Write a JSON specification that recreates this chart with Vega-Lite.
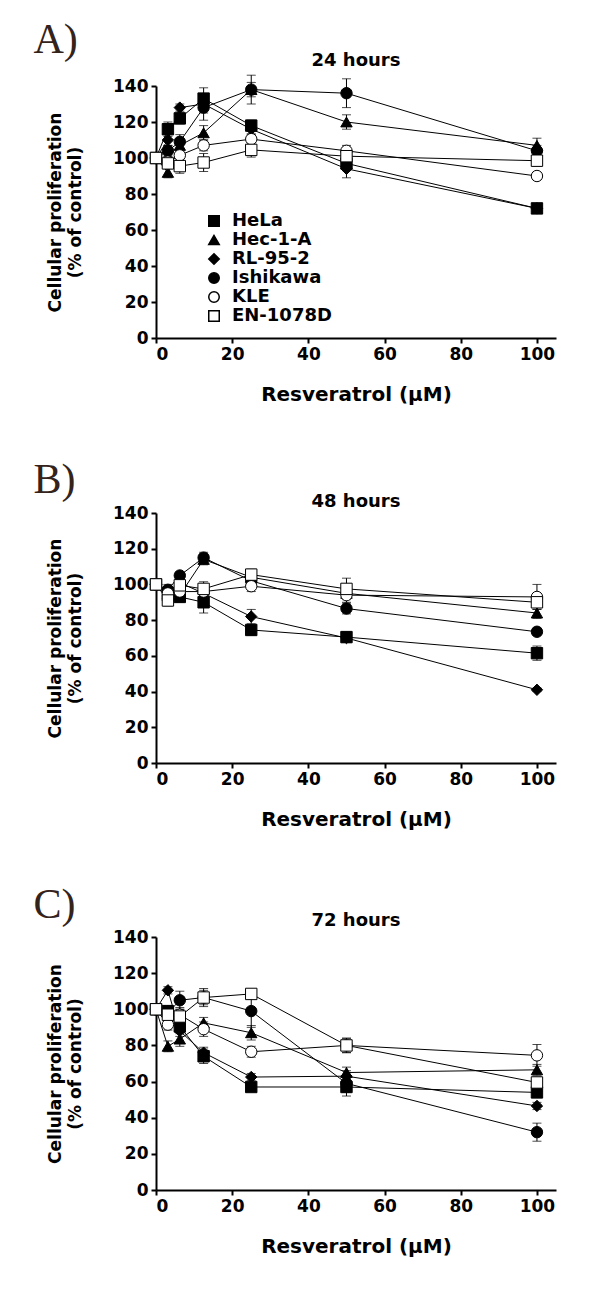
{
  "$schema": "https://vega.github.io/schema/vega-lite/v6.json",
  "padding": {"left": 33, "top": 18, "right": 5, "bottom": 5},
  "config": {
    "font": "DejaVu Sans",
    "view": {"stroke": null},
    "axis": {"labelFont": "DejaVu Sans", "labelFontWeight": "bold", "labelFontSize": 17, "labelColor": "black", "titleFont": "DejaVu Sans", "titleFontWeight": "bold", "titleColor": "black", "domainColor": "black", "domainWidth": 2, "tickColor": "black", "tickWidth": 2, "tickSize": 5, "grid": false, "labelPadding": 3},
    "axisX": {"titleFontSize": 20, "titlePadding": 22},
    "axisY": {"titleFontSize": 17, "titleLineHeight": 20, "titlePadding": 28},
    "title": {"font": "DejaVu Sans", "fontWeight": "bold", "fontSize": 18, "color": "black"},
    "concat": {"spacing": 55}
  },
  "datasets": {
    "d": [
      {"t": "24 hours", "cell": "HeLa", "x": 0, "y": 100, "sd": 1},
      {"t": "24 hours", "cell": "HeLa", "x": 3.125, "y": 116, "sd": 4},
      {"t": "24 hours", "cell": "HeLa", "x": 6.25, "y": 122, "sd": 3},
      {"t": "24 hours", "cell": "HeLa", "x": 12.5, "y": 133, "sd": 6},
      {"t": "24 hours", "cell": "HeLa", "x": 25, "y": 118, "sd": 3},
      {"t": "24 hours", "cell": "HeLa", "x": 50, "y": 97, "sd": 4},
      {"t": "24 hours", "cell": "HeLa", "x": 100, "y": 72, "sd": 1},
      {"t": "24 hours", "cell": "Hec-1-A", "x": 0, "y": 100, "sd": 1},
      {"t": "24 hours", "cell": "Hec-1-A", "x": 3.125, "y": 92, "sd": 3},
      {"t": "24 hours", "cell": "Hec-1-A", "x": 6.25, "y": 107, "sd": 3},
      {"t": "24 hours", "cell": "Hec-1-A", "x": 12.5, "y": 114, "sd": 4},
      {"t": "24 hours", "cell": "Hec-1-A", "x": 25, "y": 138, "sd": 4},
      {"t": "24 hours", "cell": "Hec-1-A", "x": 50, "y": 120, "sd": 4},
      {"t": "24 hours", "cell": "Hec-1-A", "x": 100, "y": 107, "sd": 4},
      {"t": "24 hours", "cell": "RL-95-2", "x": 0, "y": 100, "sd": 1},
      {"t": "24 hours", "cell": "RL-95-2", "x": 3.125, "y": 110, "sd": 3},
      {"t": "24 hours", "cell": "RL-95-2", "x": 6.25, "y": 128, "sd": 2},
      {"t": "24 hours", "cell": "RL-95-2", "x": 12.5, "y": 130, "sd": 5},
      {"t": "24 hours", "cell": "RL-95-2", "x": 25, "y": 116, "sd": 3},
      {"t": "24 hours", "cell": "RL-95-2", "x": 50, "y": 94, "sd": 5},
      {"t": "24 hours", "cell": "RL-95-2", "x": 100, "y": 72, "sd": 2},
      {"t": "24 hours", "cell": "Ishikawa", "x": 0, "y": 100, "sd": 1},
      {"t": "24 hours", "cell": "Ishikawa", "x": 3.125, "y": 104, "sd": 3},
      {"t": "24 hours", "cell": "Ishikawa", "x": 6.25, "y": 109, "sd": 4},
      {"t": "24 hours", "cell": "Ishikawa", "x": 12.5, "y": 128, "sd": 7},
      {"t": "24 hours", "cell": "Ishikawa", "x": 25, "y": 138, "sd": 8},
      {"t": "24 hours", "cell": "Ishikawa", "x": 50, "y": 136, "sd": 8},
      {"t": "24 hours", "cell": "Ishikawa", "x": 100, "y": 104, "sd": 3},
      {"t": "24 hours", "cell": "KLE", "x": 0, "y": 100, "sd": 1},
      {"t": "24 hours", "cell": "KLE", "x": 3.125, "y": 98, "sd": 3},
      {"t": "24 hours", "cell": "KLE", "x": 6.25, "y": 101.5, "sd": 3},
      {"t": "24 hours", "cell": "KLE", "x": 12.5, "y": 107, "sd": 3},
      {"t": "24 hours", "cell": "KLE", "x": 25, "y": 110.5, "sd": 3},
      {"t": "24 hours", "cell": "KLE", "x": 50, "y": 104, "sd": 3},
      {"t": "24 hours", "cell": "KLE", "x": 100, "y": 90, "sd": 2},
      {"t": "24 hours", "cell": "EN-1078D", "x": 0, "y": 100, "sd": 1},
      {"t": "24 hours", "cell": "EN-1078D", "x": 3.125, "y": 97, "sd": 3},
      {"t": "24 hours", "cell": "EN-1078D", "x": 6.25, "y": 95.5, "sd": 4},
      {"t": "24 hours", "cell": "EN-1078D", "x": 12.5, "y": 97.5, "sd": 5},
      {"t": "24 hours", "cell": "EN-1078D", "x": 25, "y": 104.5, "sd": 4},
      {"t": "24 hours", "cell": "EN-1078D", "x": 50, "y": 101, "sd": 5},
      {"t": "24 hours", "cell": "EN-1078D", "x": 100, "y": 98.5, "sd": 3},

      {"t": "48 hours", "cell": "HeLa", "x": 0, "y": 100, "sd": 2},
      {"t": "48 hours", "cell": "HeLa", "x": 3.125, "y": 94, "sd": 3},
      {"t": "48 hours", "cell": "HeLa", "x": 6.25, "y": 93, "sd": 3},
      {"t": "48 hours", "cell": "HeLa", "x": 12.5, "y": 90, "sd": 6},
      {"t": "48 hours", "cell": "HeLa", "x": 25, "y": 74.5, "sd": 3},
      {"t": "48 hours", "cell": "HeLa", "x": 50, "y": 70.5, "sd": 3},
      {"t": "48 hours", "cell": "HeLa", "x": 100, "y": 61.5, "sd": 4},
      {"t": "48 hours", "cell": "Hec-1-A", "x": 0, "y": 100, "sd": 2},
      {"t": "48 hours", "cell": "Hec-1-A", "x": 3.125, "y": 95, "sd": 3},
      {"t": "48 hours", "cell": "Hec-1-A", "x": 6.25, "y": 94, "sd": 3},
      {"t": "48 hours", "cell": "Hec-1-A", "x": 12.5, "y": 114, "sd": 3},
      {"t": "48 hours", "cell": "Hec-1-A", "x": 25, "y": 104, "sd": 3},
      {"t": "48 hours", "cell": "Hec-1-A", "x": 50, "y": 95, "sd": 3},
      {"t": "48 hours", "cell": "Hec-1-A", "x": 100, "y": 84, "sd": 3},
      {"t": "48 hours", "cell": "RL-95-2", "x": 0, "y": 100, "sd": 2},
      {"t": "48 hours", "cell": "RL-95-2", "x": 3.125, "y": 96, "sd": 3},
      {"t": "48 hours", "cell": "RL-95-2", "x": 6.25, "y": 101, "sd": 3},
      {"t": "48 hours", "cell": "RL-95-2", "x": 12.5, "y": 95, "sd": 4},
      {"t": "48 hours", "cell": "RL-95-2", "x": 25, "y": 82, "sd": 4},
      {"t": "48 hours", "cell": "RL-95-2", "x": 50, "y": 70, "sd": 2},
      {"t": "48 hours", "cell": "RL-95-2", "x": 100, "y": 41, "sd": 1},
      {"t": "48 hours", "cell": "Ishikawa", "x": 0, "y": 100, "sd": 2},
      {"t": "48 hours", "cell": "Ishikawa", "x": 3.125, "y": 97, "sd": 3},
      {"t": "48 hours", "cell": "Ishikawa", "x": 6.25, "y": 105, "sd": 2},
      {"t": "48 hours", "cell": "Ishikawa", "x": 12.5, "y": 115, "sd": 3},
      {"t": "48 hours", "cell": "Ishikawa", "x": 25, "y": 102, "sd": 3},
      {"t": "48 hours", "cell": "Ishikawa", "x": 50, "y": 86.5, "sd": 3},
      {"t": "48 hours", "cell": "Ishikawa", "x": 100, "y": 73.5, "sd": 2},
      {"t": "48 hours", "cell": "KLE", "x": 0, "y": 100, "sd": 2},
      {"t": "48 hours", "cell": "KLE", "x": 3.125, "y": 95, "sd": 3},
      {"t": "48 hours", "cell": "KLE", "x": 6.25, "y": 96, "sd": 3},
      {"t": "48 hours", "cell": "KLE", "x": 12.5, "y": 96, "sd": 4},
      {"t": "48 hours", "cell": "KLE", "x": 25, "y": 99, "sd": 3},
      {"t": "48 hours", "cell": "KLE", "x": 50, "y": 94, "sd": 4},
      {"t": "48 hours", "cell": "KLE", "x": 100, "y": 93, "sd": 7},
      {"t": "48 hours", "cell": "EN-1078D", "x": 0, "y": 100, "sd": 2},
      {"t": "48 hours", "cell": "EN-1078D", "x": 3.125, "y": 91, "sd": 3},
      {"t": "48 hours", "cell": "EN-1078D", "x": 6.25, "y": 99.5, "sd": 3},
      {"t": "48 hours", "cell": "EN-1078D", "x": 12.5, "y": 97.5, "sd": 4},
      {"t": "48 hours", "cell": "EN-1078D", "x": 25, "y": 105.5, "sd": 3},
      {"t": "48 hours", "cell": "EN-1078D", "x": 50, "y": 97.5, "sd": 6},
      {"t": "48 hours", "cell": "EN-1078D", "x": 100, "y": 90, "sd": 4},

      {"t": "72 hours", "cell": "HeLa", "x": 0, "y": 100, "sd": 2},
      {"t": "72 hours", "cell": "HeLa", "x": 3.125, "y": 99, "sd": 3},
      {"t": "72 hours", "cell": "HeLa", "x": 6.25, "y": 90.5, "sd": 4},
      {"t": "72 hours", "cell": "HeLa", "x": 12.5, "y": 74, "sd": 4},
      {"t": "72 hours", "cell": "HeLa", "x": 25, "y": 57, "sd": 2},
      {"t": "72 hours", "cell": "HeLa", "x": 50, "y": 57, "sd": 5},
      {"t": "72 hours", "cell": "HeLa", "x": 100, "y": 54, "sd": 2},
      {"t": "72 hours", "cell": "Hec-1-A", "x": 0, "y": 100, "sd": 2},
      {"t": "72 hours", "cell": "Hec-1-A", "x": 3.125, "y": 79.5, "sd": 3},
      {"t": "72 hours", "cell": "Hec-1-A", "x": 6.25, "y": 83.5, "sd": 4},
      {"t": "72 hours", "cell": "Hec-1-A", "x": 12.5, "y": 92.5, "sd": 3},
      {"t": "72 hours", "cell": "Hec-1-A", "x": 25, "y": 87, "sd": 4},
      {"t": "72 hours", "cell": "Hec-1-A", "x": 50, "y": 65, "sd": 3},
      {"t": "72 hours", "cell": "Hec-1-A", "x": 100, "y": 66.5, "sd": 3},
      {"t": "72 hours", "cell": "RL-95-2", "x": 0, "y": 100, "sd": 2},
      {"t": "72 hours", "cell": "RL-95-2", "x": 3.125, "y": 110.5, "sd": 2},
      {"t": "72 hours", "cell": "RL-95-2", "x": 6.25, "y": 88, "sd": 3},
      {"t": "72 hours", "cell": "RL-95-2", "x": 12.5, "y": 76, "sd": 3},
      {"t": "72 hours", "cell": "RL-95-2", "x": 25, "y": 62.5, "sd": 2},
      {"t": "72 hours", "cell": "RL-95-2", "x": 50, "y": 63, "sd": 3},
      {"t": "72 hours", "cell": "RL-95-2", "x": 100, "y": 46.5, "sd": 2},
      {"t": "72 hours", "cell": "Ishikawa", "x": 0, "y": 100, "sd": 2},
      {"t": "72 hours", "cell": "Ishikawa", "x": 3.125, "y": 98, "sd": 3},
      {"t": "72 hours", "cell": "Ishikawa", "x": 6.25, "y": 105, "sd": 5},
      {"t": "72 hours", "cell": "Ishikawa", "x": 12.5, "y": 106.5, "sd": 4},
      {"t": "72 hours", "cell": "Ishikawa", "x": 25, "y": 99, "sd": 9},
      {"t": "72 hours", "cell": "Ishikawa", "x": 50, "y": 59, "sd": 5},
      {"t": "72 hours", "cell": "Ishikawa", "x": 100, "y": 32, "sd": 5},
      {"t": "72 hours", "cell": "KLE", "x": 0, "y": 100, "sd": 2},
      {"t": "72 hours", "cell": "KLE", "x": 3.125, "y": 91.5, "sd": 3},
      {"t": "72 hours", "cell": "KLE", "x": 6.25, "y": 97, "sd": 4},
      {"t": "72 hours", "cell": "KLE", "x": 12.5, "y": 89, "sd": 4},
      {"t": "72 hours", "cell": "KLE", "x": 25, "y": 76.5, "sd": 3},
      {"t": "72 hours", "cell": "KLE", "x": 50, "y": 80, "sd": 4},
      {"t": "72 hours", "cell": "KLE", "x": 100, "y": 74.5, "sd": 6},
      {"t": "72 hours", "cell": "EN-1078D", "x": 0, "y": 100, "sd": 2},
      {"t": "72 hours", "cell": "EN-1078D", "x": 3.125, "y": 97, "sd": 3},
      {"t": "72 hours", "cell": "EN-1078D", "x": 6.25, "y": 96, "sd": 4},
      {"t": "72 hours", "cell": "EN-1078D", "x": 12.5, "y": 106.5, "sd": 5},
      {"t": "72 hours", "cell": "EN-1078D", "x": 25, "y": 108.5, "sd": 2},
      {"t": "72 hours", "cell": "EN-1078D", "x": 50, "y": 80, "sd": 4},
      {"t": "72 hours", "cell": "EN-1078D", "x": 100, "y": 59.5, "sd": 3}
    ]
  },
  "resolve": {"scale": {"shape": "independent", "fill": "independent"}},
  "vconcat": [
    {
      "title": {"text": "A)", "anchor": "start", "font": "Liberation Serif", "fontWeight": "normal", "fontSize": 42, "color": "#33231a", "dx": -13, "offset": -10},
      "resolve": {"scale": {"shape": "independent", "fill": "independent"}},
      "vconcat": [
        {
          "width": 400, "height": 252,
          "data": {"name": "d"},
          "transform": [{"filter": "datum.t === '24 hours'"}],
          "title": {"text": "24 hours", "frame": "group", "offset": 5},
          "encoding": {
            "x": {"field": "x", "type": "quantitative", "scale": {"domain": [0, 105], "nice": false}, "axis": {"values": [0, 20, 40, 60, 80, 100], "title": "Resveratrol (μM)"}},
            "y": {"field": "y", "type": "quantitative", "scale": {"domain": [0, 140], "nice": false}, "axis": {"values": [0, 20, 40, 60, 80, 100, 120, 140], "title": ["Cellular proliferation", "(% of control)"]}}
          },
          "layer": [
            {"mark": {"type": "line", "color": "black", "strokeWidth": 1}, "encoding": {"detail": {"field": "cell"}}},
            {"mark": {"type": "errorbar", "color": "black", "ticks": {"size": 9, "color": "black"}, "rule": {"strokeWidth": 1}}, "encoding": {"yError": {"field": "sd"}, "detail": {"field": "cell"}}},
            {"mark": {"type": "point", "filled": true, "opacity": 1, "stroke": "black", "strokeWidth": 1, "size": 130},
             "encoding": {
               "shape": {"field": "cell", "type": "nominal", "scale": {"domain": ["HeLa", "Hec-1-A", "RL-95-2", "Ishikawa", "KLE", "EN-1078D"], "range": ["square", "triangle-up", "diamond", "circle", "circle", "square"]},
                 "legend": {"title": null, "orient": "none", "legendX": 49, "legendY": 126, "labelFont": "DejaVu Sans", "labelFontWeight": "bold", "labelFontSize": 18, "labelColor": "black", "symbolSize": 110, "labelOffset": 9, "rowPadding": 1,
                   "encode": {"symbols": {"update": {"stroke": {"value": "black"}, "strokeWidth": {"value": 1}, "opacity": {"value": 1}}}}}},
               "fill": {"field": "cell", "type": "nominal", "scale": {"domain": ["HeLa", "Hec-1-A", "RL-95-2", "Ishikawa", "KLE", "EN-1078D"], "range": ["black", "black", "black", "black", "white", "white"]},
                 "legend": {"title": null, "orient": "none", "legendX": 49, "legendY": 126, "labelFont": "DejaVu Sans", "labelFontWeight": "bold", "labelFontSize": 18, "labelColor": "black", "symbolSize": 110, "labelOffset": 9, "rowPadding": 1,
                   "encode": {"symbols": {"update": {"stroke": {"value": "black"}, "strokeWidth": {"value": 1}, "opacity": {"value": 1}}}}}}
             }}
          ]
        }
      ]
    },
    {
      "title": {"text": "B)", "anchor": "start", "font": "Liberation Serif", "fontWeight": "normal", "fontSize": 42, "color": "#33231a", "dx": -13, "offset": -9},
      "resolve": {"scale": {"shape": "independent", "fill": "independent"}},
      "vconcat": [
        {
          "width": 400, "height": 250,
          "data": {"name": "d"},
          "transform": [{"filter": "datum.t === '48 hours'"}],
          "title": {"text": "48 hours", "frame": "group", "offset": -7},
          "encoding": {
            "x": {"field": "x", "type": "quantitative", "scale": {"domain": [0, 105], "nice": false}, "axis": {"values": [0, 20, 40, 60, 80, 100], "title": "Resveratrol (μM)"}},
            "y": {"field": "y", "type": "quantitative", "scale": {"domain": [0, 140], "nice": false}, "axis": {"values": [0, 20, 40, 60, 80, 100, 120, 140], "title": ["Cellular proliferation", "(% of control)"]}}
          },
          "layer": [
            {"mark": {"type": "line", "color": "black", "strokeWidth": 1}, "encoding": {"detail": {"field": "cell"}}},
            {"mark": {"type": "errorbar", "color": "black", "ticks": {"size": 9, "color": "black"}, "rule": {"strokeWidth": 1}}, "encoding": {"yError": {"field": "sd"}, "detail": {"field": "cell"}}},
            {"mark": {"type": "point", "filled": true, "opacity": 1, "stroke": "black", "strokeWidth": 1, "size": 130},
             "encoding": {
               "shape": {"field": "cell", "type": "nominal", "scale": {"domain": ["HeLa", "Hec-1-A", "RL-95-2", "Ishikawa", "KLE", "EN-1078D"], "range": ["square", "triangle-up", "diamond", "circle", "circle", "square"]}, "legend": null},
               "fill": {"field": "cell", "type": "nominal", "scale": {"domain": ["HeLa", "Hec-1-A", "RL-95-2", "Ishikawa", "KLE", "EN-1078D"], "range": ["black", "black", "black", "black", "white", "white"]}, "legend": null}
             }}
          ]
        }
      ]
    },
    {
      "title": {"text": "C)", "anchor": "start", "font": "Liberation Serif", "fontWeight": "normal", "fontSize": 42, "color": "#33231a", "dx": -13, "offset": -15},
      "resolve": {"scale": {"shape": "independent", "fill": "independent"}},
      "vconcat": [
        {
          "width": 400, "height": 253,
          "data": {"name": "d"},
          "transform": [{"filter": "datum.t === '72 hours'"}],
          "title": {"text": "72 hours", "frame": "group", "offset": -2},
          "encoding": {
            "x": {"field": "x", "type": "quantitative", "scale": {"domain": [0, 105], "nice": false}, "axis": {"values": [0, 20, 40, 60, 80, 100], "title": "Resveratrol (μM)"}},
            "y": {"field": "y", "type": "quantitative", "scale": {"domain": [0, 140], "nice": false}, "axis": {"values": [0, 20, 40, 60, 80, 100, 120, 140], "title": ["Cellular proliferation", "(% of control)"]}}
          },
          "layer": [
            {"mark": {"type": "line", "color": "black", "strokeWidth": 1}, "encoding": {"detail": {"field": "cell"}}},
            {"mark": {"type": "errorbar", "color": "black", "ticks": {"size": 9, "color": "black"}, "rule": {"strokeWidth": 1}}, "encoding": {"yError": {"field": "sd"}, "detail": {"field": "cell"}}},
            {"mark": {"type": "point", "filled": true, "opacity": 1, "stroke": "black", "strokeWidth": 1, "size": 130},
             "encoding": {
               "shape": {"field": "cell", "type": "nominal", "scale": {"domain": ["HeLa", "Hec-1-A", "RL-95-2", "Ishikawa", "KLE", "EN-1078D"], "range": ["square", "triangle-up", "diamond", "circle", "circle", "square"]}, "legend": null},
               "fill": {"field": "cell", "type": "nominal", "scale": {"domain": ["HeLa", "Hec-1-A", "RL-95-2", "Ishikawa", "KLE", "EN-1078D"], "range": ["black", "black", "black", "black", "white", "white"]}, "legend": null}
             }}
          ]
        }
      ]
    }
  ]
}
